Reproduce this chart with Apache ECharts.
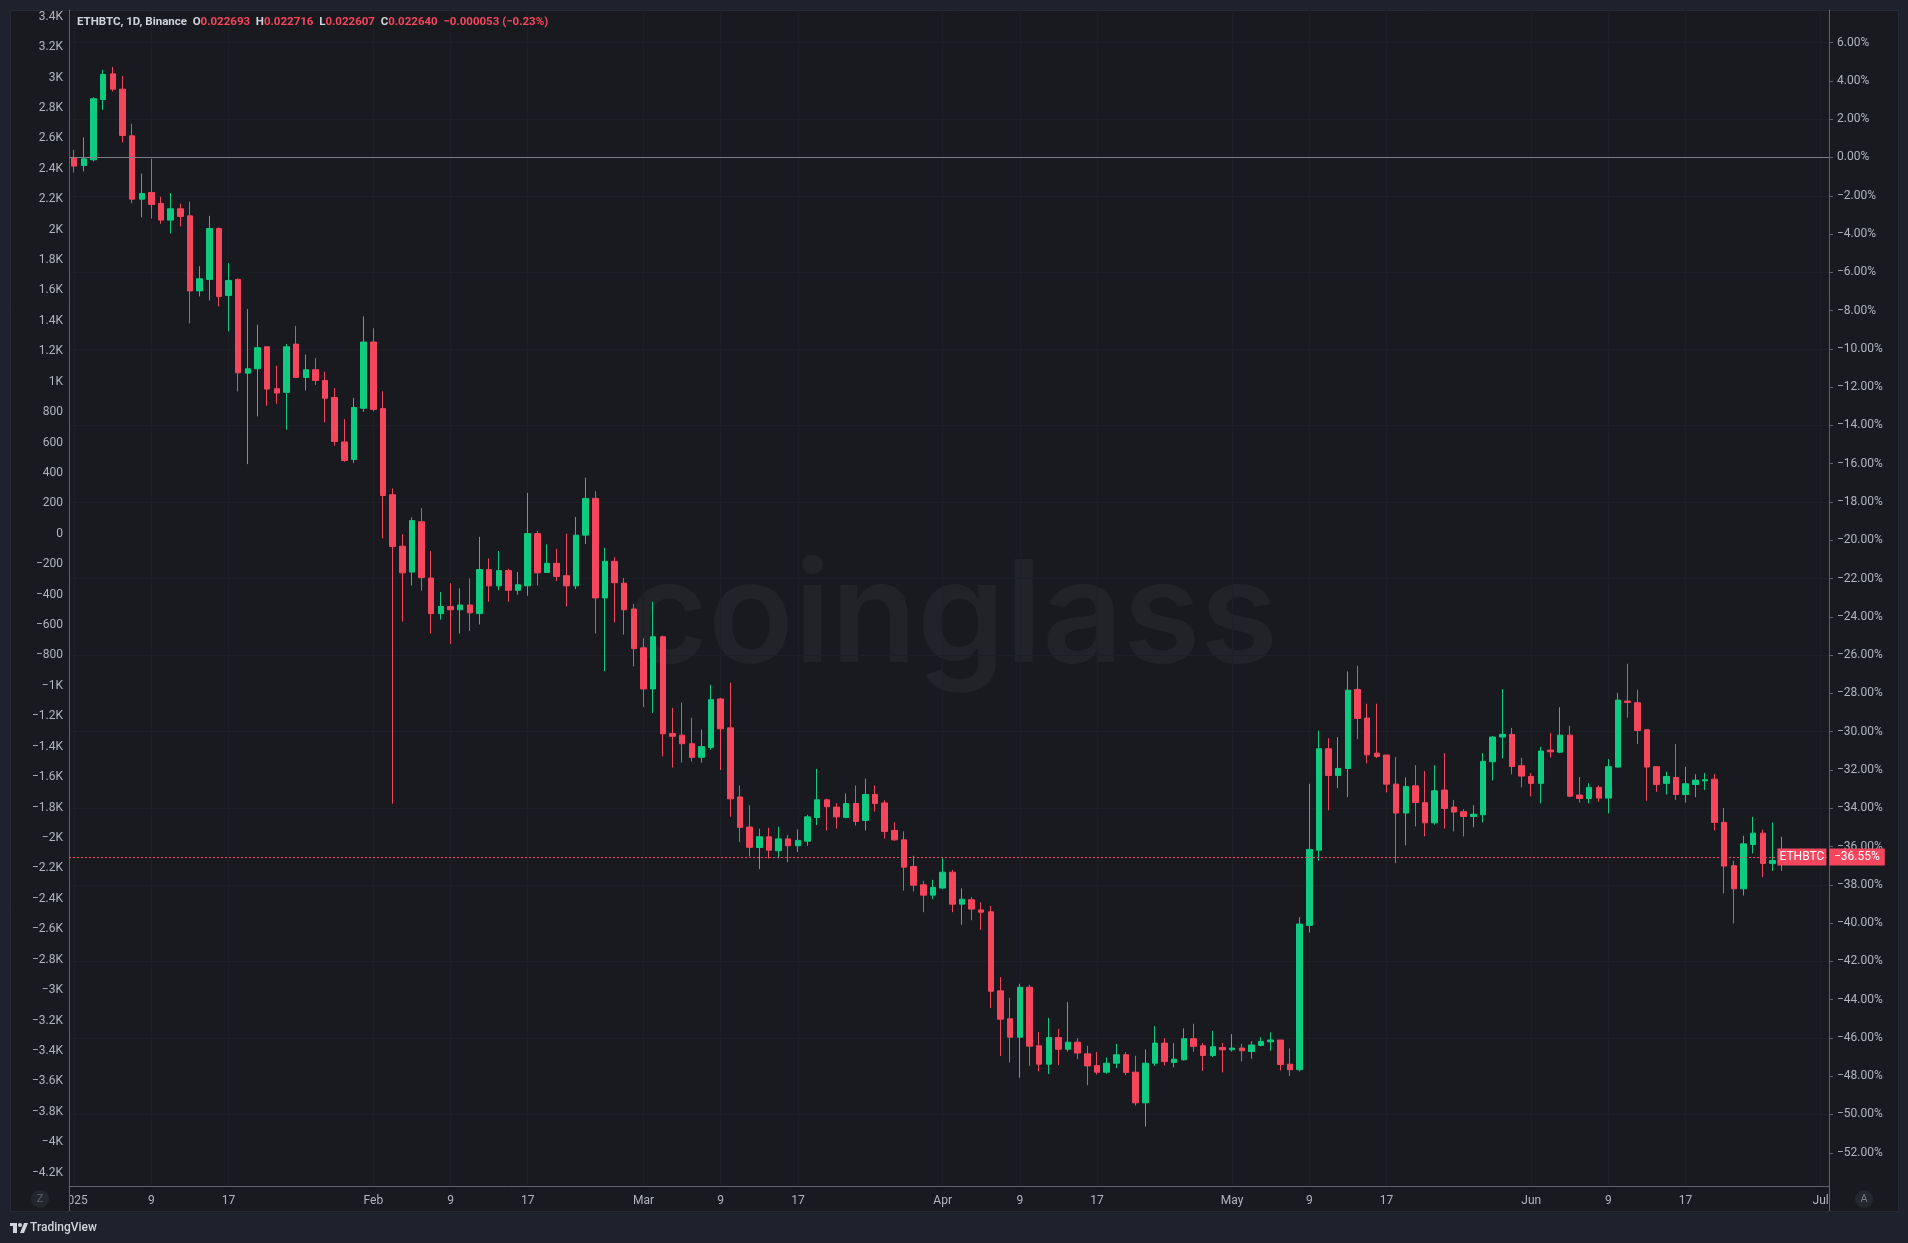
<!DOCTYPE html>
<html>
<head>
<meta charset="utf-8">
<script src="https://cdn.jsdelivr.net/npm/echarts@6/dist/echarts.min.js"></script>
<style>
html,body{margin:0;padding:0;background:#1e222d;}
#c{width:1908px;height:1243px;}
</style>
</head>
<body>
<div id="c"></div>
<script>
// ---- data (percent change, daily candles, first candle = 2025-01-01) ----
const firstDay = '2025-01-01';
const opens = [
0.00,-0.42,-0.12,3.03,4.37,3.57,1.13,-2.18,-1.83,-2.40,
-3.27,-2.68,-3.05,-6.97,-6.37,-3.71,-7.21,-6.37,-11.27,-11.04,
-9.89,-12.08,-12.27,-9.75,-11.49,-11.09,-11.65,-12.54,-14.86,-15.78,
-13.10,-9.64,-13.12,-17.62,-20.31,-21.66,-19.03,-21.97,-23.83,-23.46,
-23.63,-23.38,-23.83,-21.53,-22.38,-21.58,-22.61,-22.38,-19.65,-21.68,
-21.20,-21.85,-22.38,-19.73,-17.81,-23.01,-21.10,-22.24,-23.59,-25.62,
-27.77,-25.04,-30.09,-30.18,-30.63,-31.34,-30.82,-28.29,-29.80,-33.41,
-34.98,-36.05,-35.49,-36.22,-35.60,-35.96,-35.72,-34.48,-33.56,-33.94,
-34.48,-33.75,-34.64,-33.28,-33.72,-35.16,-35.65,-37.04,-38.00,-38.54,
-38.17,-37.34,-39.01,-38.78,-39.31,-39.41,-43.54,-45.00,-45.96,-43.35,
-46.41,-47.37,-45.98,-46.59,-46.22,-46.83,-47.44,-47.79,-47.32,-46.88,
-47.79,-49.39,-47.32,-46.27,-47.28,-47.14,-46.04,-46.41,-46.92,-46.50,
-46.62,-46.53,-46.71,-46.39,-46.20,-46.11,-47.37,-47.66,-40.12,-36.19,
-30.89,-32.29,-31.92,-27.79,-29.29,-31.12,-31.22,-32.74,-34.25,-32.83,
-33.71,-34.76,-33.05,-33.94,-34.18,-34.43,-34.34,-31.57,-30.28,-30.14,
-31.78,-32.34,-32.70,-30.96,-31.07,-30.18,-33.31,-33.49,-32.91,-33.47,
-31.85,-28.40,-28.49,-29.90,-31.83,-32.70,-32.39,-33.28,-32.76,-32.57,
-32.48,-34.74,-37.00,-38.21,-35.89,-35.30,-36.88,-36.73,-36.39
];
const highs = [
0.40,1.05,3.15,4.58,4.73,4.25,1.76,-0.84,-0.07,-2.05,
-1.86,-2.42,-2.31,-5.68,-3.05,-3.66,-5.52,-6.32,-7.92,-8.73,
-9.89,-10.88,-9.75,-8.80,-10.30,-10.48,-11.19,-12.05,-13.67,-12.56,
-8.30,-8.92,-12.21,-17.29,-19.69,-18.80,-18.32,-20.56,-22.70,-22.24,
-22.51,-21.99,-19.82,-20.95,-20.56,-21.49,-21.66,-17.52,-19.50,-20.21,
-20.44,-19.65,-18.78,-16.73,-17.43,-20.39,-20.87,-21.97,-23.32,-25.12,
-23.21,-24.98,-28.75,-28.48,-29.27,-29.89,-27.55,-28.23,-27.44,-32.81,
-33.84,-35.07,-35.02,-34.97,-35.39,-35.11,-34.34,-31.94,-33.50,-33.73,
-33.23,-32.81,-32.46,-32.81,-33.58,-34.73,-35.21,-36.48,-37.79,-37.74,
-36.62,-37.22,-38.19,-38.64,-38.92,-39.10,-42.82,-43.90,-43.17,-43.22,
-45.70,-44.95,-45.52,-44.13,-46.01,-46.41,-46.74,-47.02,-46.31,-46.74,
-46.93,-46.60,-45.38,-46.01,-46.27,-45.50,-45.26,-46.27,-45.63,-46.27,
-45.80,-46.31,-46.17,-45.96,-45.70,-46.11,-46.55,-39.69,-32.72,-29.95,
-30.34,-30.28,-26.85,-26.56,-28.54,-28.54,-31.22,-31.33,-32.39,-31.75,
-32.06,-31.75,-31.12,-33.56,-34.05,-33.84,-31.12,-30.23,-27.78,-29.80,
-31.36,-32.16,-30.79,-30.06,-28.72,-29.69,-32.37,-32.69,-32.81,-31.43,
-27.97,-26.45,-27.81,-29.87,-31.83,-32.09,-30.65,-31.83,-32.22,-32.16,
-32.22,-33.99,-36.74,-35.44,-34.45,-35.12,-34.74,-35.49,-36.33
];
const lows = [
-0.78,-0.73,-0.21,2.49,3.45,0.79,-2.39,-3.13,-3.19,-3.46,
-3.97,-3.60,-8.67,-7.26,-7.47,-7.78,-9.09,-12.22,-16.02,-13.53,
-12.97,-12.87,-14.23,-11.49,-12.17,-11.88,-13.84,-15.06,-15.90,-15.96,
-13.29,-13.27,-19.90,-33.76,-24.25,-22.36,-22.63,-24.87,-24.15,-25.41,
-24.87,-24.73,-24.40,-23.21,-22.61,-23.21,-22.84,-22.90,-22.36,-21.68,
-22.12,-23.46,-22.55,-20.19,-24.87,-26.84,-24.29,-24.93,-26.59,-28.71,
-29.02,-31.29,-31.87,-31.61,-31.56,-31.61,-30.94,-32.00,-34.44,-35.77,
-36.52,-37.18,-36.62,-36.62,-36.82,-36.29,-35.96,-34.88,-35.16,-35.06,
-34.52,-34.90,-35.16,-34.17,-35.58,-35.70,-38.30,-38.35,-39.43,-38.75,
-38.23,-39.43,-40.09,-39.85,-40.35,-44.44,-46.95,-47.28,-48.08,-47.46,
-47.75,-47.89,-47.42,-46.71,-47.11,-48.47,-47.91,-47.87,-47.58,-47.94,
-49.53,-50.63,-47.46,-47.44,-47.54,-47.18,-46.72,-47.72,-47.00,-47.80,
-46.72,-47.23,-47.09,-46.44,-46.67,-47.70,-47.99,-47.75,-40.49,-36.74,
-34.11,-32.95,-33.42,-30.39,-31.66,-31.38,-33.17,-36.87,-35.94,-34.95,
-35.47,-34.86,-35.06,-35.21,-35.47,-35.00,-34.74,-32.55,-31.40,-32.23,
-32.91,-33.38,-33.75,-31.35,-31.12,-33.42,-33.70,-33.75,-33.66,-34.27,
-31.85,-29.27,-30.65,-33.61,-33.14,-33.28,-33.56,-33.70,-33.42,-33.04,
-35.16,-38.45,-40.02,-38.56,-36.36,-37.60,-37.27,-37.27,-36.63
];
const closes = [
-0.45,-0.07,3.07,4.34,3.57,1.15,-2.18,-1.88,-2.45,-3.27,
-2.68,-3.08,-6.97,-6.34,-3.71,-7.26,-6.43,-11.25,-11.04,-9.94,
-12.10,-12.31,-9.89,-11.49,-11.09,-11.65,-12.58,-14.84,-15.83,-13.06,
-9.64,-13.16,-17.66,-20.33,-21.70,-18.97,-21.95,-23.83,-23.46,-23.63,
-23.38,-23.79,-21.53,-22.38,-21.58,-22.61,-22.32,-19.65,-21.70,-21.20,
-21.89,-22.38,-19.73,-17.81,-23.01,-21.10,-22.22,-23.63,-25.66,-27.77,
-25.04,-30.11,-30.24,-30.63,-31.34,-30.78,-28.33,-29.85,-33.51,-35.00,
-36.04,-35.49,-36.19,-35.60,-35.96,-35.68,-34.45,-33.56,-33.92,-34.45,
-33.75,-34.69,-33.28,-33.75,-35.21,-35.65,-37.08,-38.02,-38.54,-38.14,
-37.34,-39.01,-38.75,-39.27,-39.43,-43.56,-45.02,-45.96,-43.35,-46.43,
-47.37,-45.98,-46.59,-46.22,-46.79,-47.46,-47.79,-47.32,-46.88,-47.80,
-49.39,-47.32,-46.27,-47.23,-47.11,-46.04,-46.44,-46.92,-46.46,-46.62,
-46.53,-46.67,-46.37,-46.18,-46.11,-47.39,-47.66,-40.05,-36.15,-30.89,
-32.29,-31.92,-27.83,-29.31,-31.21,-31.29,-32.74,-34.25,-32.86,-33.70,
-34.76,-33.09,-34.01,-34.20,-34.43,-34.31,-31.55,-30.28,-30.14,-31.82,
-32.32,-32.70,-31.01,-31.05,-30.18,-33.37,-33.49,-32.91,-33.47,-31.83,
-28.35,-28.47,-29.94,-31.85,-32.76,-32.34,-33.28,-32.72,-32.53,-32.51,
-34.74,-37.02,-38.21,-35.86,-35.30,-36.88,-36.73,-36.39,-36.55
];
const xTickDates = ['2025-01-01','2025-01-09','2025-01-17','2025-02-01','2025-02-09','2025-02-17',
  '2025-03-01','2025-03-09','2025-03-17','2025-04-01','2025-04-09','2025-04-17',
  '2025-05-01','2025-05-09','2025-05-17','2025-06-01','2025-06-09','2025-06-17','2025-07-01'];
const xTickLabels = ['2025','9','17','Feb','9','17','Mar','9','17','Apr','9','17','May','9','17','Jun','9','17','Jul'];
const pctTicks = [6,4,2,0,-2,-4,-6,-8,-10,-12,-14,-16,-18,-20,-22,-24,-26,-28,-30,-32,-34,-36,-38,-40,-42,-44,-46,-48,-50,-52];
const pctGridLines = [6,2,-2,-6,-10,-14,-18,-22,-26,-30,-34,-38,-42,-46,-50];
const leftTicks = [3400,3200,3000,2800,2600,2400,2200,2000,1800,1600,1400,1200,1000,800,600,400,200,0,
  -200,-400,-600,-800,-1000,-1200,-1400,-1600,-1800,-2000,-2200,-2400,-2600,-2800,-3000,-3200,-3400,-3600,-3800,-4000,-4200];
const symbolName = 'ETHBTC';
const headerInfo = 'ETHBTC, 1D, Binance';
const lastO = '0.022693', lastH = '0.022716', lastL = '0.022607', lastC = '0.022640';
const lastChg = '\u22120.000053 (\u22120.23%)';
const lastClosePct = -36.55;
const basePct = 0;

// ---- helpers ----
const DAY = 86400000;
const t0 = Date.parse(firstDay + 'T00:00:00Z');
const dayIndex = s => Math.round((Date.parse(s + 'T00:00:00Z') - t0) / DAY);
const candleData = opens.map((o, i) => [i, o, closes[i], lows[i], highs[i]]);
const xTickVals = xTickDates.map(dayIndex);
const xLabelMap = {};
xTickVals.forEach((v, i) => { xLabelMap[v] = xTickLabels[i]; });
const MINUS = '\u2212';
const pctFmt = v => (v < 0 ? MINUS : '') + Math.abs(v).toFixed(2) + '%';
const kFmt = v => {
  if (v === 0) return '0';
  const a = Math.abs(v);
  const s = a >= 1000 ? (Math.round(a / 100) / 10) + 'K' : String(a);
  return (v < 0 ? MINUS : '') + s;
};

const UP = '#0ecb81', DOWN = '#f6465d';
const PANEL = '#181a1f', OUTER = '#1e222d';
const AXIS_LINE = '#5f626c', LABEL = '#b2b5be', GRIDC = '#1c1f25';
const FONT = 'Roboto, "Noto Sans", sans-serif';

const chart = echarts.init(document.getElementById('c'), null, {renderer: 'canvas'});
const option = {
  backgroundColor: OUTER,
  animation: false,
  textStyle: {fontFamily: FONT},
  title: {
    left: 77, top: 16, padding: 0,
    text: `{n|${headerInfo}}  {k|O}{v|${lastO}}  {k|H}{v|${lastH}}  {k|L}{v|${lastL}}  {k|C}{v|${lastC}}  {v|${lastChg}}`,
    textStyle: {
      fontSize: 11.5, fontFamily: FONT,
      rich: {
        n: {color: '#d1d4dc', fontSize: 11.5, fontFamily: FONT},
        k: {color: '#d1d4dc', fontSize: 11.5, fontFamily: FONT},
        v: {color: DOWN, fontSize: 11.5, fontFamily: FONT}
      }
    }
  },
  grid: [{left: 69, right: 79, top: 10, bottom: 57, outerBoundsMode: 'none', containLabel: false}],
  xAxis: [{
    type: 'value', gridIndex: 0, min: -0.54, max: 181.86,
    axisLine: {show: true, onZero: false, lineStyle: {color: AXIS_LINE, width: 1}},
    axisTick: {show: false, customValues: xTickVals},
    axisLabel: {
      customValues: xTickVals, color: LABEL, fontSize: 12, fontFamily: FONT, margin: 9,
      formatter: v => xLabelMap[v] || ''
    },
    splitLine: {show: true, lineStyle: {color: GRIDC, width: 1}}
  }],
  yAxis: [{
    type: 'value', gridIndex: 0, position: 'right', min: -53.736, max: 7.706,
    axisLine: {show: true, onZero: false, lineStyle: {color: AXIS_LINE, width: 1}},
    axisTick: {show: true, length: 4, customValues: pctTicks, lineStyle: {color: AXIS_LINE}},
    axisLabel: {customValues: pctTicks, color: LABEL, fontSize: 12, fontFamily: FONT, margin: 8, formatter: pctFmt},
    splitLine: {show: false}
  }, {
    type: 'value', gridIndex: 0, position: 'left', min: -4288, max: 3444,
    axisLine: {show: true, onZero: false, lineStyle: {color: AXIS_LINE, width: 1}},
    axisTick: {show: false, customValues: leftTicks},
    axisLabel: {customValues: leftTicks, color: LABEL, fontSize: 12, fontFamily: FONT, margin: 6, formatter: kFmt},
    splitLine: {show: false}
  }, {
    type: 'value', gridIndex: 0, position: 'right', min: -53.736, max: 7.706,
    axisLine: {show: false, onZero: false}, axisLabel: {show: false},
    axisTick: {show: false, customValues: pctGridLines},
    splitLine: {show: true, lineStyle: {color: GRIDC, width: 1}}
  }],
  series: [{
    type: 'candlestick', name: symbolName, xAxisIndex: 0, yAxisIndex: 0,
    data: candleData, barWidth: 6,
    itemStyle: {color: UP, color0: DOWN, borderColor: UP, borderColor0: DOWN, borderWidth: 1},
    markLine: {
      silent: true, symbol: 'none', animation: false,
      data: [
        {yAxis: basePct, lineStyle: {color: '#7c7f88', type: 'solid', width: 1}, label: {show: false}},
        {yAxis: lastClosePct, lineStyle: {color: DOWN, type: [2, 2], width: 1},
         label: {show: true, position: 'end', distance: 0, formatter: () => pctFmt(lastClosePct),
           backgroundColor: DOWN, color: '#ffffff', fontSize: 12, fontFamily: FONT, padding: [3, 5, 2, 5], lineHeight: 12}}
      ]
    },
    markPoint: {
      silent: true, animation: false,
      data: [{coord: [179.05, lastClosePct], symbol: 'rect', symbolSize: [49, 17],
        itemStyle: {color: DOWN},
        label: {show: true, position: 'inside', formatter: symbolName, color: '#ffffff', fontSize: 12, fontFamily: FONT}}]
    }
  }],
  graphic: [
    {type: 'rect', z: -10, shape: {x: 10.5, y: 10.5, width: 1888, height: 1201}, style: {fill: PANEL, stroke: '#262a34', lineWidth: 1}},
    {type: 'text', z: -5, x: 952, y: 620, style: {text: 'coinglass', fill: '#212328', font: '600 141px Inter, "Noto Sans", sans-serif', textAlign: 'center', textVerticalAlign: 'middle'}},
    {type: 'line', z: 50, shape: {x1: 69.5, y1: 1186, x2: 69.5, y2: 1211}, style: {stroke: AXIS_LINE, lineWidth: 1}},
    {type: 'line', z: 50, shape: {x1: 1829.5, y1: 1186, x2: 1829.5, y2: 1211}, style: {stroke: AXIS_LINE, lineWidth: 1}},
    {type: 'rect', z: 100, shape: {x: 11, y: 1187, width: 58, height: 23}, style: {fill: PANEL}},
    {type: 'circle', z: 101, shape: {cx: 40, cy: 1199, r: 9}, style: {fill: '#24272f'}},
    {type: 'text', z: 102, x: 40, y: 1199, style: {text: 'Z', fill: '#5d606b', font: '11px Roboto, sans-serif', textAlign: 'center', textVerticalAlign: 'middle'}},
    {type: 'circle', z: 101, shape: {cx: 1864, cy: 1199, r: 9}, style: {fill: '#24272f'}},
    {type: 'text', z: 102, x: 1864, y: 1199, style: {text: 'A', fill: '#7a7d86', font: '11px Roboto, sans-serif', textAlign: 'center', textVerticalAlign: 'middle'}},
    {type: 'rect', z: 10, shape: {x: 10, y: 1223, width: 7, height: 3}, style: {fill: '#d1d4dc'}},
    {type: 'rect', z: 10, shape: {x: 13, y: 1223, width: 4, height: 10}, style: {fill: '#d1d4dc'}},
    {type: 'circle', z: 10, shape: {cx: 20, cy: 1225, r: 2}, style: {fill: '#d1d4dc'}},
    {type: 'polygon', z: 10, shape: {points: [[20, 1233], [24, 1223], [28, 1223], [24, 1233]]}, style: {fill: '#d1d4dc'}},
    {type: 'text', z: 10, x: 30, y: 1228, style: {text: 'TradingView', fill: '#d1d4dc', font: '500 12px Roboto, sans-serif', textVerticalAlign: 'middle'}}
  ]
};
chart.setOption(option);
</script>
</body>
</html>
